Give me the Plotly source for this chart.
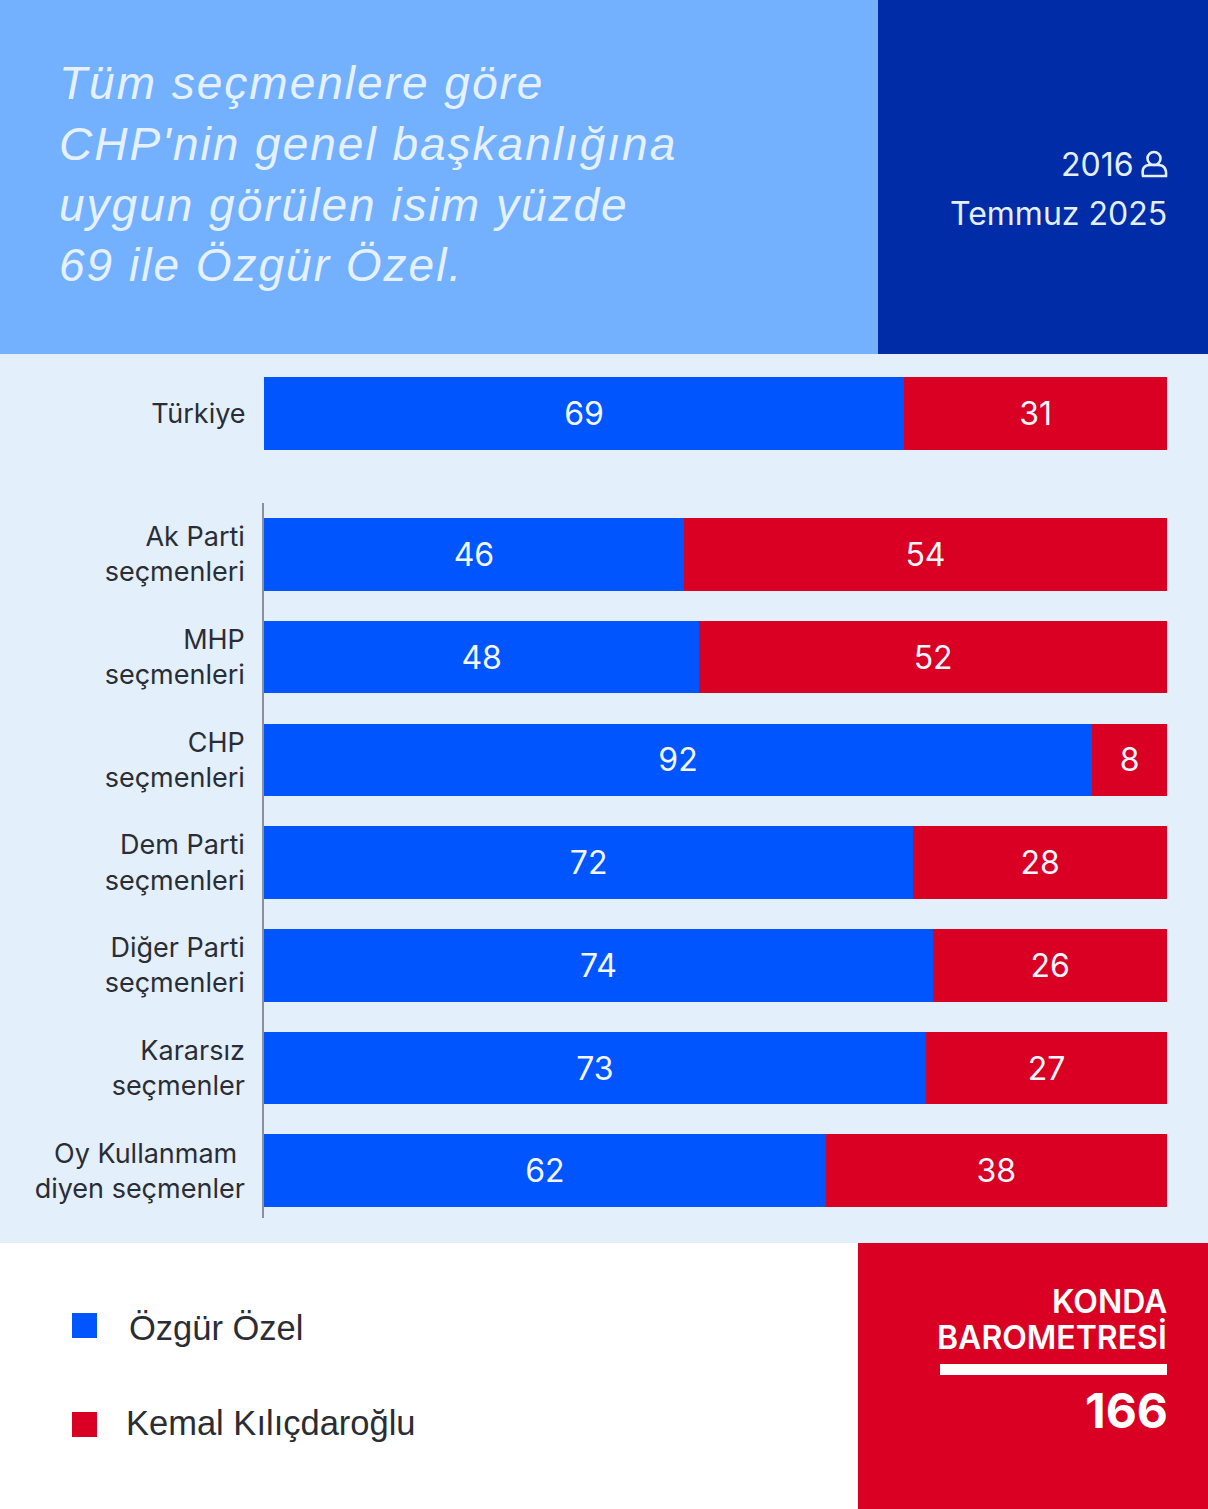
import plotly.graph_objects as go

W, H = 1208, 1509

# ---- data ----
# Bar lengths are read off the picture; the printed labels are kept separately because
# the reference's bars do not always equal its labels (Türkiye is drawn ~71/29, printed 69/31).
overall_label = ["Türkiye"]
overall_ozel = [70.9]
overall_kilic = [29.1]
overall_ozel_text = ["69"]
overall_kilic_text = ["31"]

groups = ["Ak Parti<br>seçmenleri", "MHP<br>seçmenleri", "CHP<br>seçmenleri",
          "Dem Parti<br>seçmenleri", "Diğer Parti<br>seçmenleri",
          "Kararsız<br>seçmenler", "Oy Kullanmam\u00a0<br>diyen seçmenler"]
group_ozel = [46.5, 48.2, 91.7, 71.9, 74.1, 73.3, 62.2]
group_kilic = [53.5, 51.8, 8.3, 28.1, 25.9, 26.7, 37.8]
group_ozel_text = ["46", "48", "92", "72", "74", "73", "62"]
group_kilic_text = ["54", "52", "8", "28", "26", "27", "38"]

series_names = ["Özgür Özel", "Kemal Kılıçdaroğlu"]
title_lines = ["Tüm seçmenlere göre", "CHP'nin genel başkanlığına",
               "uygun görülen isim yüzde", "69 ile Özgür Özel."]

# ---- styles ----
BLUE = "#0055FF"
RED = "#D90024"
SKY = "#73B1FF"
NAVY = "#002CA8"
PALE = "#E4EFFC"
INK = "#2A2D36"
SANS = "Inter, 'Noto Sans', sans-serif"
HELV = "'Liberation Sans', Arial, sans-serif"


def fx(x):
    return x / W


def fy(y):
    return 1 - y / H


def rect(x0, y0, x1, y1, color, layer="below"):
    return dict(type="rect", xref="paper", yref="paper", x0=fx(x0), x1=fx(x1),
                y0=fy(y1), y1=fy(y0), fillcolor=color, line_width=0, layer=layer)


def label(text, x, y, size, color, anchor="left", family=SANS, weight=400, style="normal"):
    return dict(text=text, x=fx(x), y=fy(y), xref="paper", yref="paper", showarrow=False,
                xanchor=anchor, yanchor="middle", align=anchor,
                font=dict(size=size, color=color, family=family, weight=weight, style=style))


fig = go.Figure()


def stacked(names, a, b, ta, tb, xa, ya, width):
    for vals, txt, color, name in ((a, ta, BLUE, series_names[0]), (b, tb, RED, series_names[1])):
        fig.add_trace(go.Bar(
            y=names, x=vals, orientation="h", name=name, xaxis=xa, yaxis=ya, width=width,
            marker=dict(color=color, line_width=0), text=txt, textposition="inside",
            insidetextanchor="middle", textangle=0, constraintext="none",
            textfont=dict(family=SANS, size=32, color="#F2F6FD"), showlegend=False,
            hovertemplate="%{y}: %{text}<extra>" + name + "</extra>"))


stacked(overall_label, overall_ozel, overall_kilic, overall_ozel_text, overall_kilic_text, "x", "y", 1)
stacked(groups, group_ozel, group_kilic, group_ozel_text, group_kilic_text, "x2", "y2", 0.706)

x_dom = [fx(264), fx(1167)]
x_common = dict(range=[0, 100], domain=x_dom, visible=False, fixedrange=True)
y_common = dict(type="category", showgrid=False, zeroline=False, ticks="outside", ticklen=12,
                tickcolor="rgba(0,0,0,0)", tickfont=dict(family=SANS, size=27, color=INK), fixedrange=True)

shapes = [
    rect(0, 0, 878, 354, SKY),
    rect(878, 0, W, 354, NAVY),
    rect(0, 354, W, 1243, PALE),
    rect(858, 1243, W, H, RED),
    rect(940, 1364, 1167, 1375, "#FFFFFF"),
    rect(72, 1313, 97, 1338, BLUE),
    rect(72, 1412, 97, 1437, RED),
    # person icon
    dict(type="circle", xref="paper", yref="paper", x0=fx(1147.5), x1=fx(1160.5), y0=fy(165), y1=fy(152),
         line=dict(color=PALE, width=2.6)),
    dict(type="path", xref="paper", yref="paper",
         path=(f"M {fx(1143)} {fy(176)} L {fx(1166)} {fy(176)} "
               f"Q {fx(1167)} {fy(165)} {fx(1158)} {fy(165)} L {fx(1150)} {fy(165)} "
               f"Q {fx(1141)} {fy(165)} {fx(1143)} {fy(176)} Z"),
         line=dict(color=PALE, width=2.6)),
]

TITLE_COLOR = "#E6F1FF"
annotations = [
    label(title_lines[0], 57, 83, 46, TITLE_COLOR, family=HELV, style="italic"),
    label(title_lines[1], 57, 144, 46, TITLE_COLOR, family=HELV, style="italic"),
    label(title_lines[2], 57, 205, 46, TITLE_COLOR, family=HELV, style="italic"),
    label(title_lines[3], 57, 265, 46, TITLE_COLOR, family=HELV, style="italic"),
    label("2016", 1136, 165, 32, PALE, anchor="right"),
    label("Temmuz 2025", 1169, 213, 32, PALE, anchor="right"),
    label("KONDA", 1169, 1301, 32, "#FFFFFF", anchor="right", weight=600),
    label("BAROMETRESİ", 1169, 1337, 32, "#FFFFFF", anchor="right", weight=600),
    label("166", 1170, 1410, 48, "#FFFFFF", anchor="right", weight=700),
    label(series_names[0], 127, 1328, 34.5, INK, family=HELV),
    label(series_names[1], 124, 1423, 34.5, INK, family=HELV),
]

fig.update_layout(
    width=W, height=H, margin=dict(l=0, r=0, t=0, b=0),
    paper_bgcolor="#FFFFFF", plot_bgcolor="rgba(0,0,0,0)", barmode="stack", showlegend=False,
    xaxis=dict(**x_common, anchor="y"),
    xaxis2=dict(**x_common, anchor="y2"),
    yaxis=dict(**y_common, domain=[fy(450), fy(377)], anchor="x", range=[-0.5, 0.5], showline=False),
    yaxis2=dict(**y_common, domain=[fy(1218), fy(503)], anchor="x2", range=[6.46, -0.5],
                showline=True, linecolor="#8A8F99", linewidth=1.5),
    shapes=shapes, annotations=annotations,
)

# The headline in the reference is tracked out; plotly has no letter-spacing option.
post = """
document.body.style.margin = '0';
document.querySelectorAll('.annotation').forEach(function (a, i) {
  if (i < 4) {
    a.querySelector('text').style.letterSpacing = '2px';
  }
});
"""
fig.write_html("out.html", post_script=post, config={"displayModeBar": False})
